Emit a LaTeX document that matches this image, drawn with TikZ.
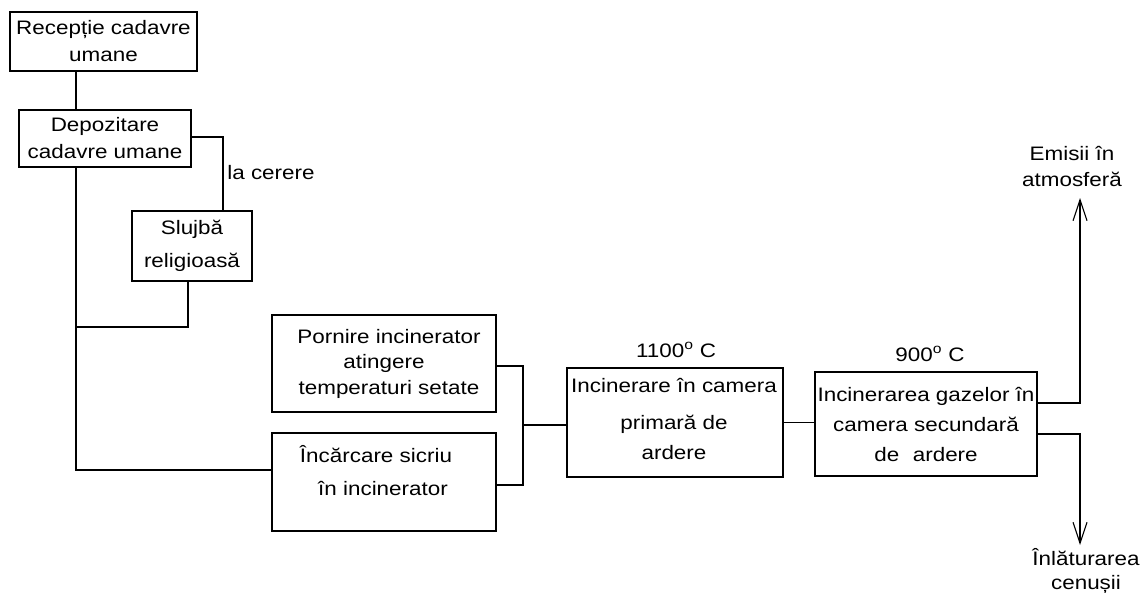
\documentclass[tikz,border=0pt]{standalone}
\usepackage{fontspec}
\setmainfont{Liberation Sans}[FakeStretch=1.15]
\usetikzlibrary{arrows.meta}
\newcommand{\fs}[1]{\fontsize{19.5}{#1}\selectfont}
\tikzset{
  box/.style={draw, line width=1.1pt, inner sep=0pt, align=center},
  conn/.style={line width=1.1pt},
  arr/.style={line width=1.1pt, -{Straight Barb[length=21pt,width=14pt,line width=1.1pt]}},
  lbl/.style={inner sep=0pt, align=center}
}
\begin{document}
\begin{tikzpicture}[x=1pt,y=-1pt]
\useasboundingbox (0,0) rectangle (1141,592);
% boxes
\node[box, minimum width=187pt, minimum height=59pt, font=\fs{27}] (rec) at (103.5,41.5) {Recepție cadavre\\umane};
\node[box, minimum width=172pt, minimum height=57pt, font=\fs{27}] (dep) at (105,138.5) {Depozitare\\cadavre umane};
\node[box, minimum width=120pt, minimum height=70pt, font=\fs{33}] (slu) at (192,246) {Slujbă\\religioasă};
\node[box, minimum width=224pt, minimum height=97pt, font=\fs{25.5}] (por) at (384,363.5) {\hspace*{10pt}Pornire incinerator\\atingere\\\hspace*{10pt}temperaturi setate};
\node[box, minimum width=224pt, minimum height=98pt] (inc) at (384,482) {};
\node[box, minimum width=216pt, minimum height=109pt] (pri) at (675,422.5) {};
\node[box, minimum width=222pt, minimum height=104pt, font=\fs{30}] (sec) at (926,424) {Incinerarea gazelor în\\camera secundară\\de\hspace{0.7em}ardere\hspace{1.4em}};
% box texts placed individually
\node[lbl, font=\fs{33}] (inctxt) at (380,471) {Încărcare sicriu\hspace*{8pt}\\\hspace*{10pt}în incinerator\hspace*{4pt}};
\node[lbl, font=\fs{30}] (pritxt) at (674,418.5) {Incinerare în camera\\[7pt]primară de\\ardere};
% labels
\node[lbl, font=\fs{27}] (cer) at (271,173) {la cerere};
\node[lbl, font=\fs{27}] (t1) at (676,350) {1100\textsuperscript{o} C};
\node[lbl, font=\fs{27}] (t2) at (930,354) {900\textsuperscript{o} C};
\node[lbl, font=\fs{26}] (emi) at (1072,166) {Emisii în\\atmosferă};
\node[lbl, font=\fs{24}] (inl) at (1086,571) {Înlăturarea\\cenușii};
% helper coordinates
\coordinate (xa) at (76,0);
\coordinate (xb) at (223,0);
\coordinate (xc) at (188,0);
\coordinate (ya) at (0,470);
\coordinate (tj) at (76,327);
\coordinate (yp) at (0,366);
\coordinate (yi) at (0,485);
\coordinate (m) at (523,425);
\coordinate (yu) at (0,403);
\coordinate (yd) at (0,434);
\coordinate (up) at (1080,198);
\coordinate (dn) at (1080,545);
% connectors
\draw[conn] (rec.south -| xa) -- (dep.north -| xa);
\draw[conn] (dep.east |- 0,137) -| (slu.north -| xb);
\draw[conn] (dep.south -| xa) |- (inc.west |- ya);
\draw[conn] (slu.south -| xc) |- (tj);
\draw[conn] (por.east |- yp) -| (m);
\draw[conn] (inc.east |- yi) -| (m);
\draw[conn] (m) -- (pri.west |- m);
\draw[conn] (pri.east) -- (sec.west |- pri.east);
\draw[arr] (sec.east |- yu) -| (up);
\draw[arr] (sec.east |- yd) -| (dn);
\end{tikzpicture}
\end{document}
